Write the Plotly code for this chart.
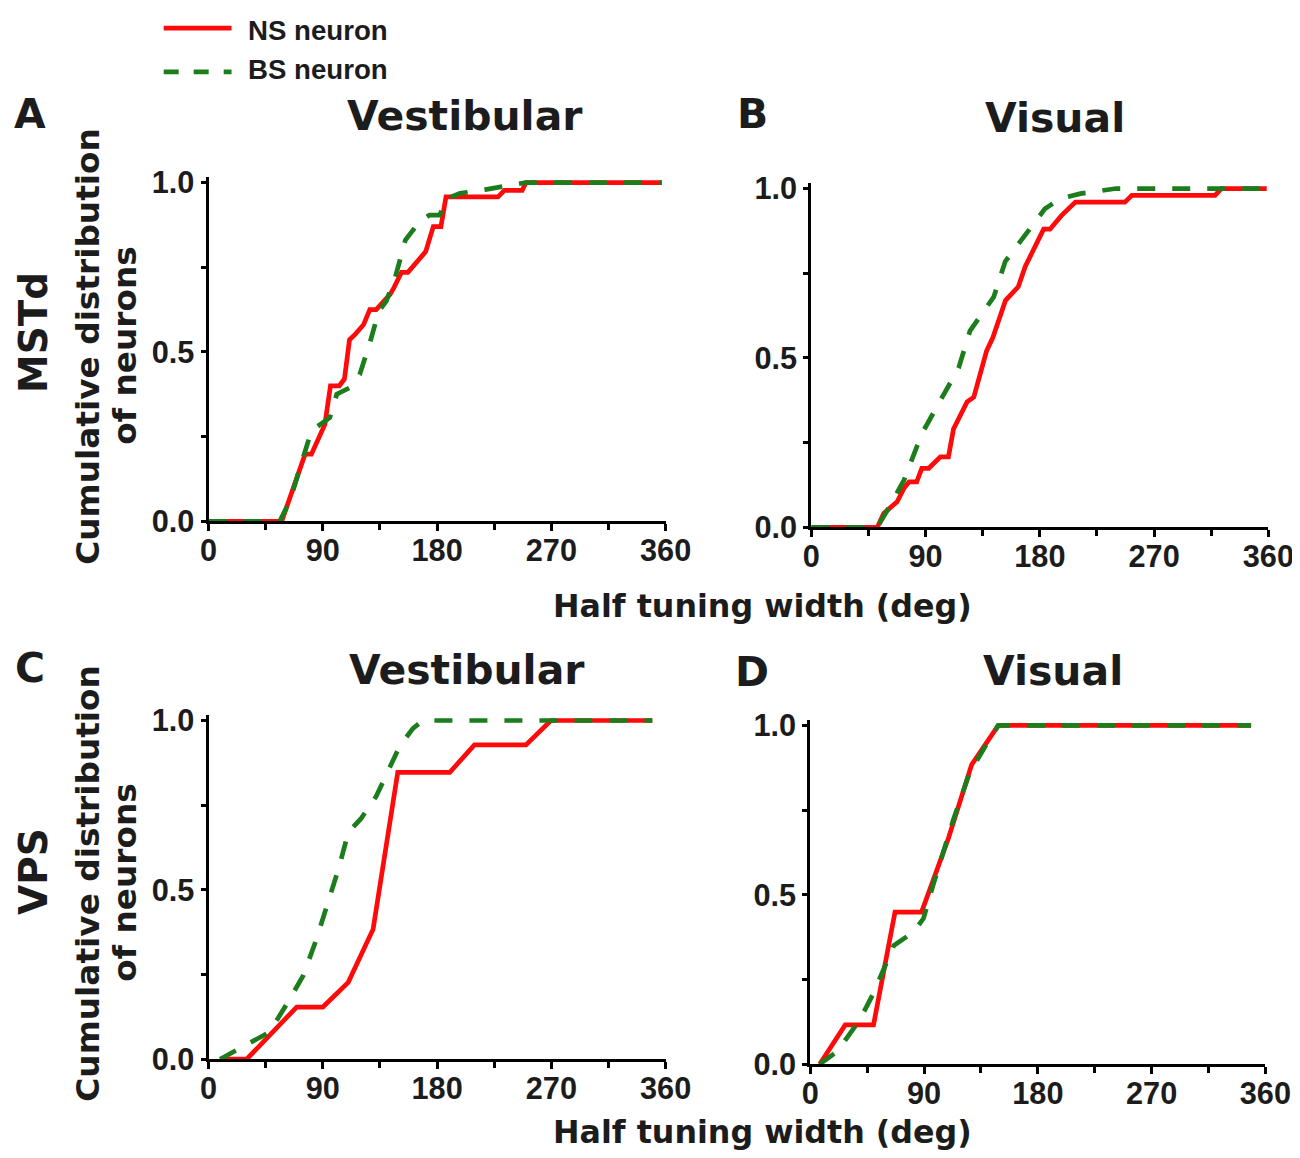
import plotly.graph_objects as go
from plotly.subplots import make_subplots

W, H = 1318, 1166

# the photographed page is shown a little smaller than the html page and the
# html body has an 8px margin; positions below are picture pixels, converted here
SX, OXP = 0.9755, 5.2
SY, OYP = 0.978, 10.0
K = 1 / 0.977  # size compensation


def fx(p):
    return ((p - OXP) / SX - 8) / W


def fy(p):
    return 1 - ((p - OYP) / SY - 8) / H


# panel A - MSTd vestibular
a_ns_x = [0, 57.6, 76, 81, 91.6, 96, 103, 107, 111, 115, 122, 127, 132, 143, 146, 152, 157, 171, 177, 183, 187, 228, 233, 247, 250, 357]
a_ns_y = [0, 0, 0.198, 0.198, 0.286, 0.40, 0.40, 0.42, 0.536, 0.55, 0.58, 0.625, 0.625, 0.67, 0.69, 0.735, 0.735, 0.796, 0.87, 0.87, 0.958, 0.958, 0.977, 0.977, 1.0, 1.0]
a_bs_x = [0, 56, 64, 72, 81, 95.5, 101, 111, 119, 127, 134, 140, 147, 155, 166, 174, 182, 188, 198, 219, 245, 250, 357]
a_bs_y = [0, 0, 0.06, 0.16, 0.267, 0.306, 0.375, 0.394, 0.433, 0.526, 0.62, 0.65, 0.72, 0.83, 0.884, 0.904, 0.904, 0.953, 0.968, 0.98, 0.997, 1.0, 1.0]

# panel B - MSTd visual
b_ns_x = [0, 52, 57, 67.6, 73, 77, 83, 87, 92.5, 101.7, 108, 112, 122.7, 128, 138, 143, 153, 163, 168.5, 183, 188, 197, 208, 247, 252.5, 318, 323, 358.7]
b_ns_y = [0, 0, 0.041, 0.075, 0.115, 0.134, 0.134, 0.174, 0.174, 0.208, 0.208, 0.29, 0.37, 0.384, 0.52, 0.56, 0.67, 0.71, 0.77, 0.88, 0.88, 0.92, 0.96, 0.96, 0.98, 0.98, 1.0, 1.0]
b_bs_x = [0, 52, 60, 73, 87, 101.7, 116, 125, 136, 143.7, 152.8, 166, 172.5, 184, 196, 212, 240, 358.7]
b_bs_y = [0, 0, 0.051, 0.139, 0.276, 0.374, 0.47, 0.58, 0.64, 0.68, 0.785, 0.85, 0.884, 0.94, 0.97, 0.985, 1.0, 1.0]

# panel C - VPS vestibular
c_ns_x = [9, 30, 69.4, 90, 110, 119, 129.6, 149, 190, 209.4, 250, 269.6, 349.5]
c_ns_y = [0, 0, 0.154, 0.154, 0.227, 0.296, 0.384, 0.847, 0.847, 0.928, 0.928, 1.0, 1.0]
c_bs_x = [9, 22, 48, 64, 74.6, 85, 95.5, 103, 110, 120, 132, 142.7, 150.5, 161, 168.8, 349.5]
c_bs_y = [0, 0.026, 0.08, 0.178, 0.247, 0.355, 0.48, 0.57, 0.67, 0.71, 0.776, 0.865, 0.924, 0.977, 1.0, 1.0]

# panel D - VPS visual
d_ns_x = [7.4, 27.6, 50, 67, 88, 109, 127.6, 148.7, 348.7]
d_ns_y = [0, 0.116, 0.116, 0.449, 0.449, 0.664, 0.884, 1.0, 1.0]
d_bs_x = [7.4, 21, 39, 50, 66, 81.6, 89.5, 97, 113, 126, 137, 148.7, 348.7]
d_bs_y = [0, 0.037, 0.13, 0.21, 0.35, 0.39, 0.43, 0.527, 0.72, 0.86, 0.93, 1.0, 1.0]

x_ticks = [0, 90, 180, 270, 360]
y_ticks = [0, 0.5, 1.0]
y_ticklabels = ["0.0", "0.5", "1.0"]

RED = "#ff0a0a"
GREEN = "#1b7d1b"
INK = "#1c1c1c"
YTOP = 1.015
LW = 4.6 * K

# pixel boxes of each panel: x0, x1 (0..360), y of 1.0, y of 0.0
boxes = {
    (1, 1): (205, 663, 181, 521),
    (1, 2): (809, 1267, 187, 527),
    (2, 1): (205, 663, 721, 1061),
    (2, 2): (808, 1264, 726, 1066),
}

fig = make_subplots(rows=2, cols=2)

panels = [
    (1, 1, a_ns_x, a_ns_y, a_bs_x, a_bs_y),
    (1, 2, b_ns_x, b_ns_y, b_bs_x, b_bs_y),
    (2, 1, c_ns_x, c_ns_y, c_bs_x, c_bs_y),
    (2, 2, d_ns_x, d_ns_y, d_bs_x, d_bs_y),
]
for r, c, nx, ny, bx, by in panels:
    fig.add_trace(go.Scatter(x=nx, y=ny, mode="lines", name="NS neuron",
                             line=dict(color=RED, width=LW)), row=r, col=c)
    fig.add_trace(go.Scatter(x=bx, y=by, mode="lines", name="BS neuron",
                             line=dict(color=GREEN, width=LW, dash="18px,17px")), row=r, col=c)

tick_font = dict(family="Liberation Sans, Arial", size=30 * K, color=INK, weight="bold")
for (r, c), (x0, x1, y1, y0) in boxes.items():
    ytop_px = y0 - (y0 - y1) * YTOP
    fig.update_xaxes(domain=[fx(x0), fx(x1)], range=[0, 360], tickvals=x_ticks,
                     ticks="outside", ticklen=7, tickwidth=3, tickcolor="black",
                     ticklabelstandoff=-7,
                     minor=dict(ticks="outside", dtick=45, ticklen=6, tickwidth=3, tickcolor="black"),
                     showline=True, linewidth=3, linecolor="black", showgrid=False,
                     zeroline=False, tickfont=tick_font, row=r, col=c)
    fig.update_yaxes(domain=[fy(y0), fy(ytop_px)], range=[0, YTOP],
                     tickvals=y_ticks, ticktext=y_ticklabels,
                     ticks="outside", ticklen=5, tickwidth=3, tickcolor="black",
                     minor=dict(ticks="outside", tickvals=[0.25, 0.75], ticklen=5, tickwidth=3, tickcolor="black"),
                     showline=True, linewidth=3, linecolor="black", showgrid=False,
                     zeroline=False, tickfont=tick_font, row=r, col=c)

big = dict(family="DejaVu Sans", size=40 * K, color=INK, weight="bold")
row_font = dict(family="DejaVu Sans", size=38 * K, color=INK, weight="bold")
lab = dict(family="DejaVu Sans", size=32 * K, color=INK, weight="bold")
xlab = dict(family="DejaVu Sans", size=31 * K, color=INK, weight="bold")
leg = dict(family="Liberation Sans, Arial", size=27 * K, color=INK, weight="bold")


def note(text, x, y, font, angle=0, xanchor="center"):
    fig.add_annotation(text=text, x=fx(x), y=fy(y), xref="paper", yref="paper",
                       showarrow=False, font=font, textangle=angle,
                       xanchor=xanchor, yanchor="middle")


note("Vestibular", 462, 114, big)
note("Visual", 1053, 116, big)
note("Vestibular", 464, 670, big)
note("Visual", 1051, 671, big)
note("A", 26, 112, big)
note("B", 750, 112, big)
note("C", 26, 668, big)
note("D", 750, 672, big)
note("MSTd", 30, 331, row_font, angle=-90)
note("VPS", 30, 872, row_font, angle=-90)
for yc in (345, 884):
    note("Cumulative distribution", 84, yc, lab, angle=-90)
    note("of neurons", 121, yc, lab, angle=-90)
note("Half tuning width (deg)", 760, 606, xlab)
note("Half tuning width (deg)", 760, 1134, xlab)

# legend keys
fig.add_shape(type="line", xref="paper", yref="paper", x0=fx(160), x1=fx(228),
              y0=fy(26), y1=fy(26), line=dict(color=RED, width=LW))
fig.add_shape(type="line", xref="paper", yref="paper", x0=fx(160), x1=fx(228),
              y0=fy(70), y1=fy(70), line=dict(color=GREEN, width=LW, dash="15px,15px"))
note("NS neuron", 242, 28, leg, xanchor="left")
note("BS neuron", 242, 68, leg, xanchor="left")

fig.update_layout(width=W, height=H, margin=dict(l=0, r=0, t=0, b=0),
                  paper_bgcolor="white", plot_bgcolor="white", showlegend=False)

fig.write_html("out.html")
